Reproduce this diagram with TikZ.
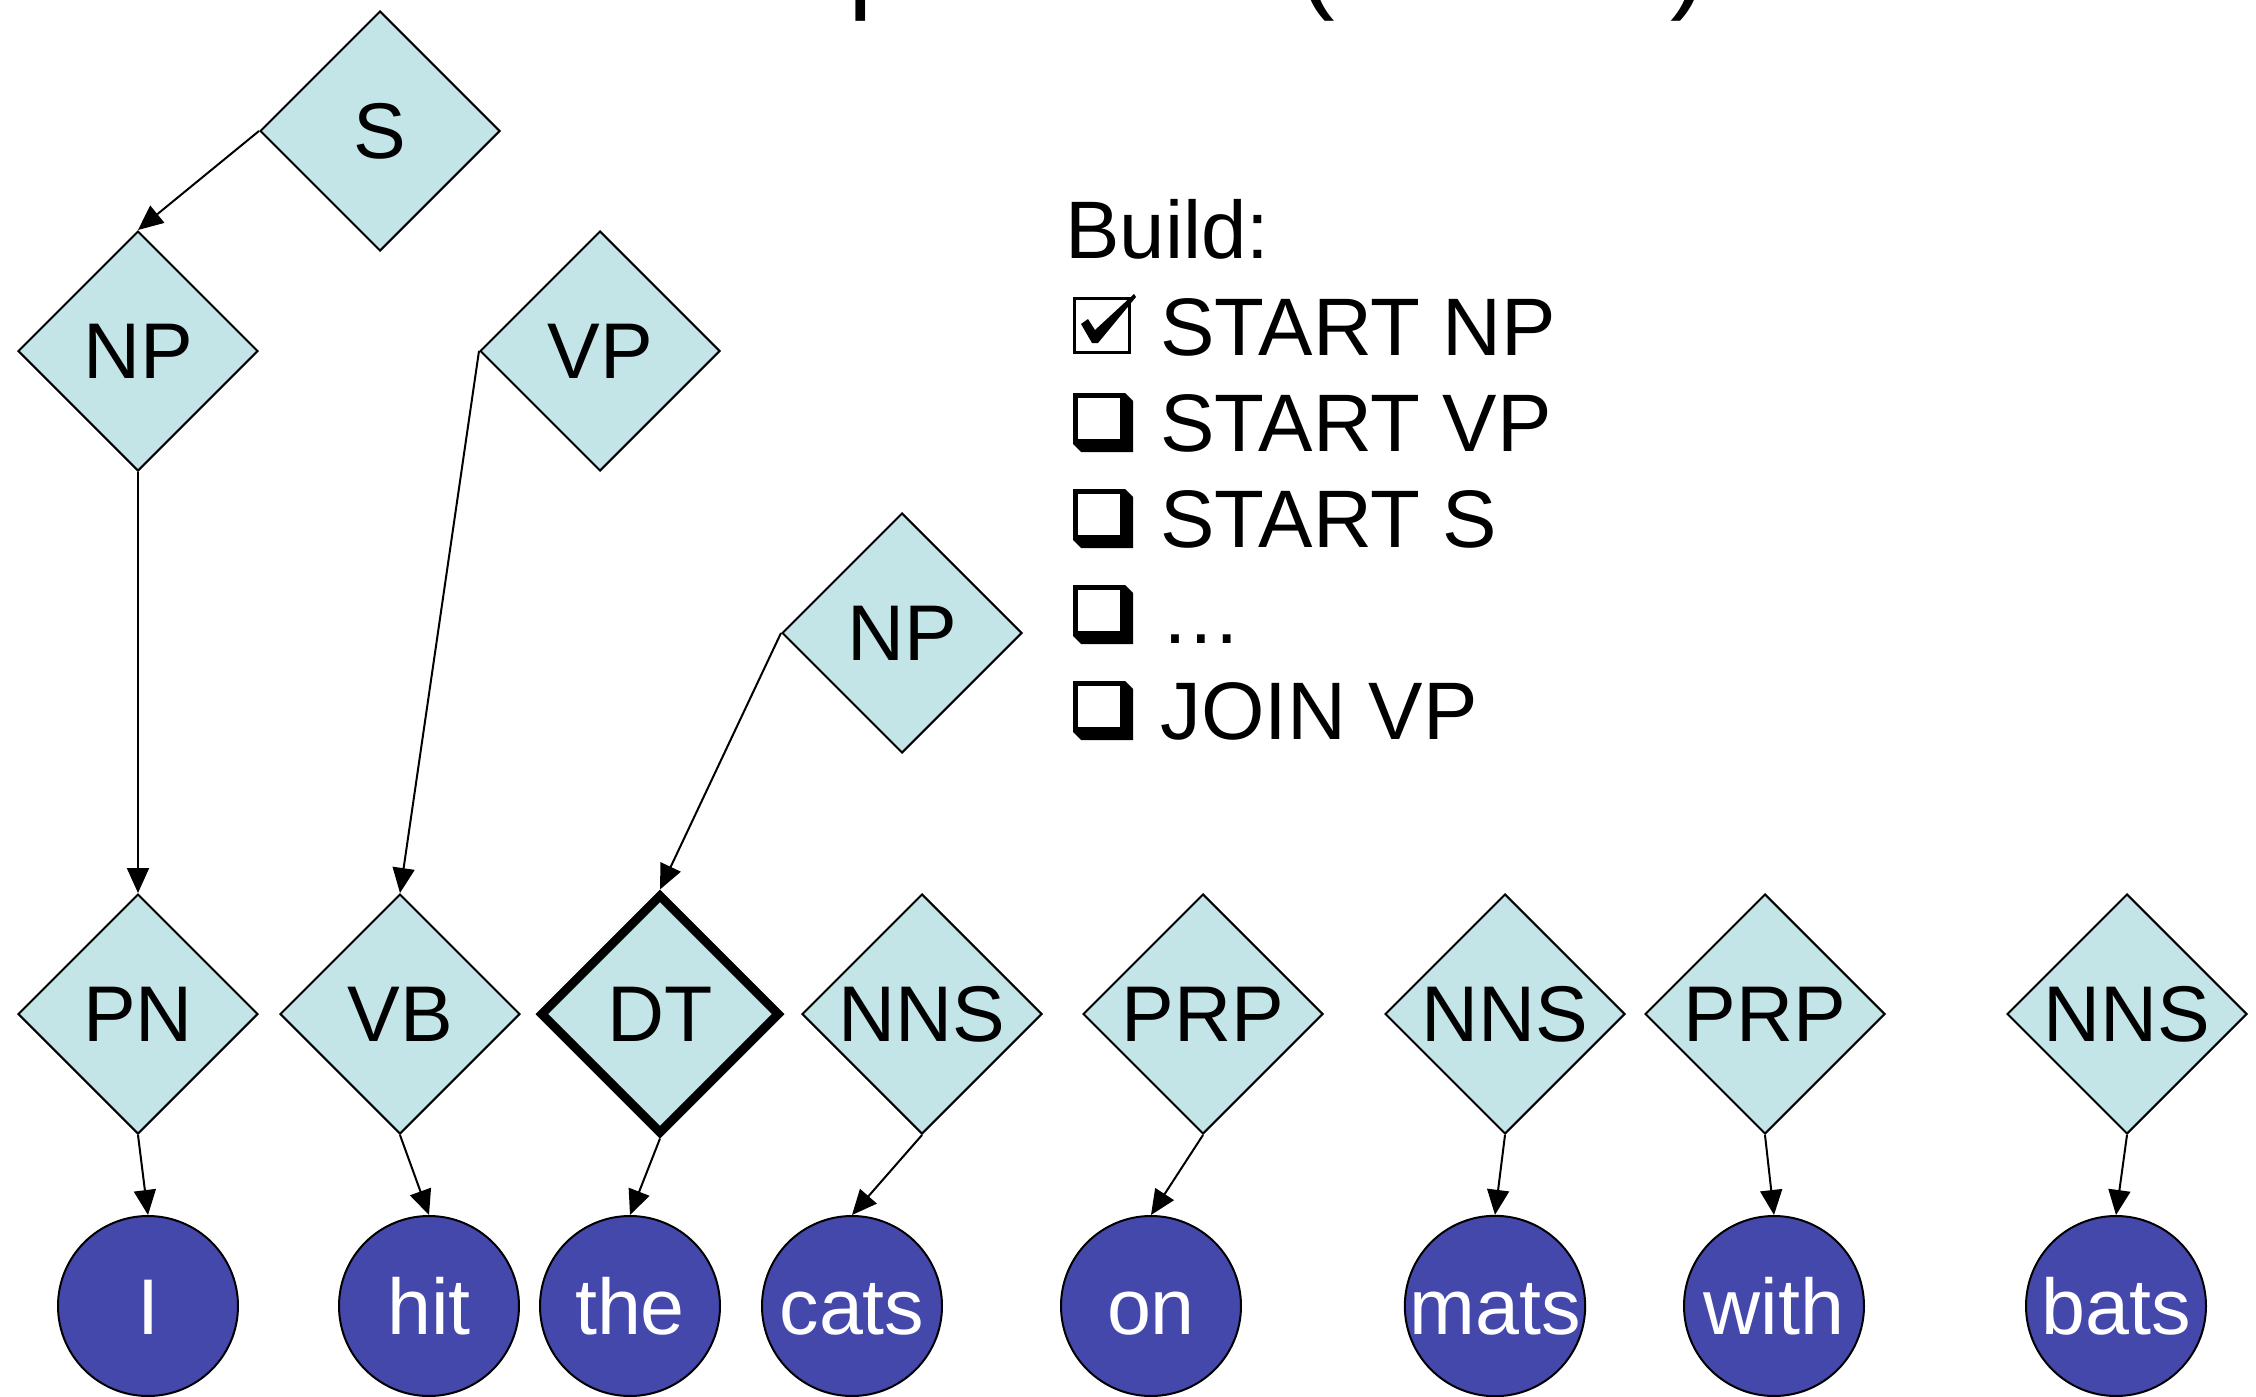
\documentclass[tikz,border=0pt]{standalone}
\usepackage{fontspec}
\setmainfont{Liberation Sans}
\usetikzlibrary{shapes.geometric,arrows.meta}
\definecolor{dfill}{RGB}{196,229,232}
\definecolor{wfill}{RGB}{68,72,170}
\begin{document}
\begin{tikzpicture}[x=0.5pt,y=-0.5pt,
  cat/.style={diamond, aspect=1, draw=black, line width=1pt, fill=dfill,
    minimum width=120pt, minimum height=120pt, inner sep=0pt,
    font=\fontsize{39.5}{47}\selectfont},
  wrd/.style={circle, draw=black, line width=1pt, fill=wfill, minimum size=90pt,
    inner sep=0pt, text=white, font=\fontsize{39.5}{47}\selectfont,
    execute at begin node=\vphantom{h}},
  edge/.style={line width=1pt, -{Triangle[length=12.5pt,width=11pt]}},
  item/.style={anchor=base west, inner sep=0pt, font=\fontsize{40.8}{49}\selectfont},
  ttl/.style={anchor=base west, inner sep=0pt, font=\fontsize{55}{66}\selectfont}]
\useasboundingbox (0,0) rectangle (2256,1397);
\fill[white] (0,0) rectangle (2256,1397);

% cut-off title fragments
\begin{scope}
  \clip (0,0) rectangle (2256,1397);
  \node[ttl] (tp) at (848,-1.5) {p};
  \node[ttl] (tl) at (1298,-1.5) {(};
  \node[ttl] (tr) at (1670,-1.5) {)};
\end{scope}

% phrase nodes
\node[cat] (s)   at (380,131)  {S};
\node[cat] (np1) at (138,351)  {NP};
\node[cat] (vp)  at (600,351)  {VP};
\node[cat] (np2) at (902,633)  {NP};

% tag nodes
\node[cat] (pn)   at (138,1014)  {PN};
\node[cat] (vb)   at (400,1014)  {VB};
\node[cat, line width=4.5pt] (dt) at (660,1014) {DT};
\node[cat] (nns1) at (922,1014)  {NNS};
\node[cat] (prp1) at (1203,1014) {PRP};
\node[cat] (nns2) at (1505,1014) {NNS};
\node[cat] (prp2) at (1765,1014) {PRP};
\node[cat] (nns3) at (2127,1014) {NNS};

% word nodes
\node[wrd] (w1) at (148,1306)  {I};
\node[wrd] (w2) at (429,1306)  {hit};
\node[wrd] (w3) at (630,1306)  {the};
\node[wrd] (w4) at (852,1306)  {cats};
\node[wrd] (w5) at (1151,1306) {on};
\node[wrd] (w6) at (1495,1306) {mats};
\node[wrd] (w7) at (1774,1306) {with};
\node[wrd] (w8) at (2116,1306) {bats};

% edges
\draw[edge] (s.west) -- (np1.north);
\draw[edge] (np1.south) -- (pn.north);
\draw[edge] (vp.west) -- (vb.north);
\draw[edge] (np2.west) -- (dt.north);
\draw[edge] (pn.south) -- (w1.north);
\draw[edge] (vb.south) -- (w2.north);
\draw[edge] (dt.south) -- (w3.north);
\draw[edge] (nns1.south) -- (w4.north);
\draw[edge] (prp1.south) -- (w5.north);
\draw[edge] (nns2.south) -- (w6.north);
\draw[edge] (prp2.south) -- (w7.north);
\draw[edge] (nns3.south) -- (w8.north);

% build list
\node[item] (build) at (1065,258.5) {Build:};
\node[item] (i1) at (1160,355) {START NP};
\node[item] (i2) at (1160,451) {START VP};
\node[item] (i3) at (1160,547) {START S};
\node[item] (i4) at (1160,643) {\dots};
\node[item] (i5) at (1160,739) {JOIN VP};

% checked box
\draw[line width=1.7pt] (1074.7,298.7) rectangle (1129.3,352.3);
\fill (1081,324) -- (1088,319) -- (1095,330) -- (1134,294) -- (1136,297)
      -- (1098,343) -- (1092,343) -- cycle;

% shadowed boxes
\foreach \b in {451,547,643,739}{
  \fill (1073,\b-58) -- (1125,\b-58) -- (1133,\b-50) -- (1133,\b+1)
        -- (1081,\b+1) -- (1073,\b-7) -- cycle;
  \fill[white] (1078,\b-53) rectangle (1120,\b-12);
}
\end{tikzpicture}
\end{document}
